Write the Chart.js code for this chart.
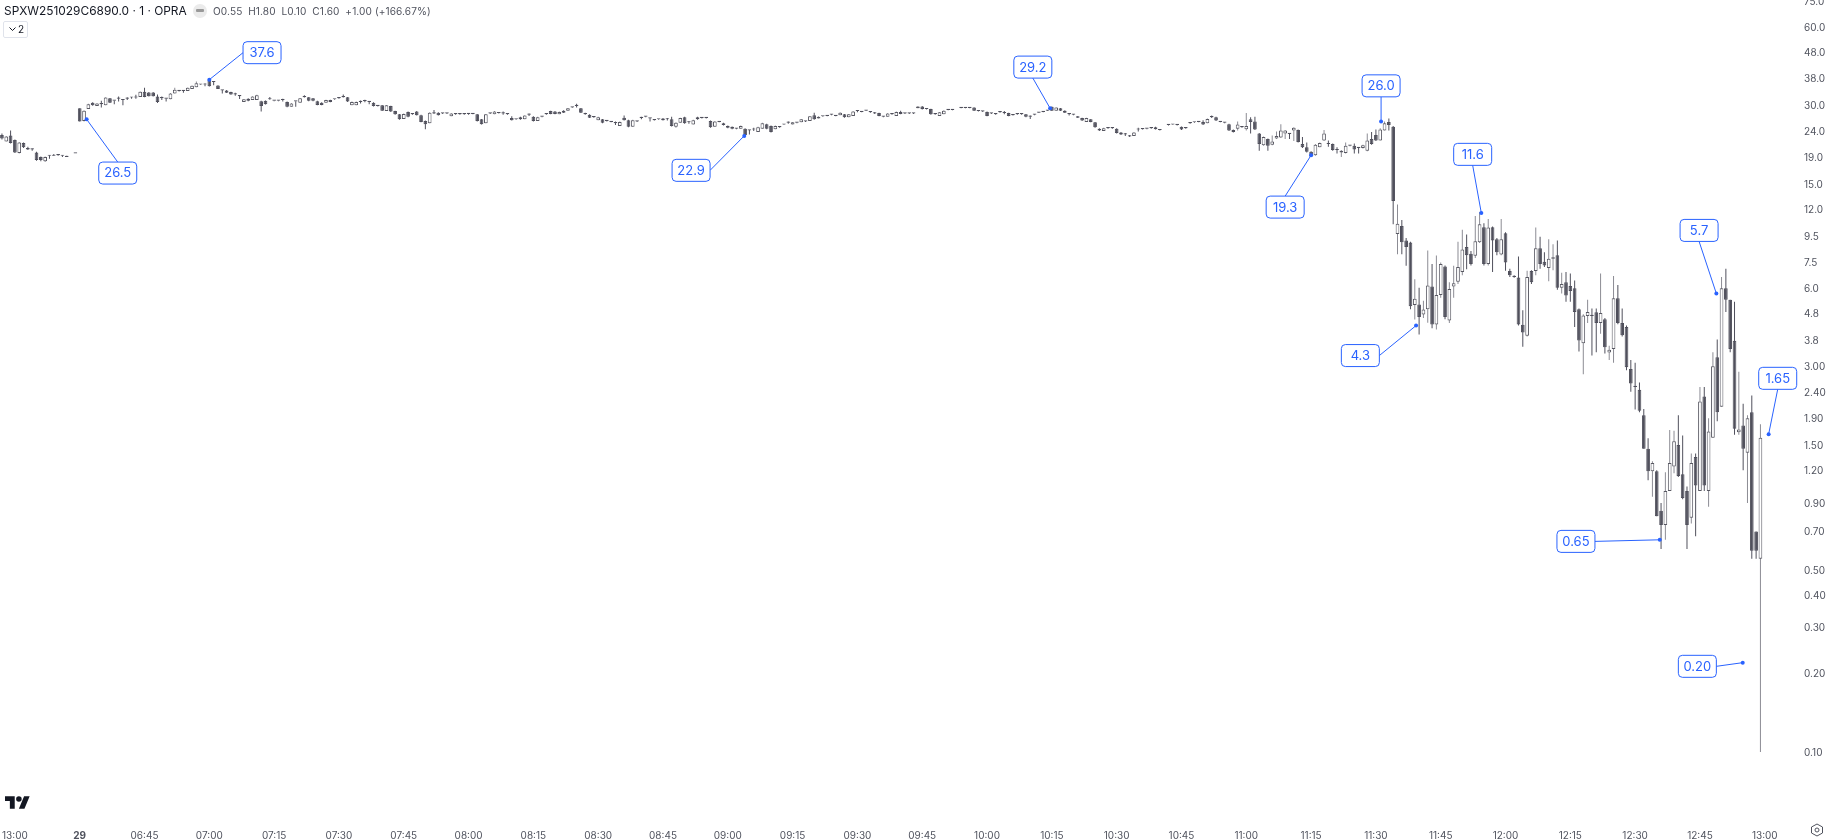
<!DOCTYPE html>
<html>
<head>
<meta charset="utf-8">
<title>SPXW251029C6890.0</title>
<script src="https://cdn.jsdelivr.net/npm/chart.js@4"></script>
<style>
    body { margin: 0; background: #fff; font-family: Inter, sans-serif; overflow: hidden; }
    canvas { position: absolute; left: 0; top: 0; }
    .legend { position: absolute; left: 4px; top: 3px; height: 16px; line-height: 16px; white-space: nowrap; }
    .legend .name { position: absolute; left: 0; top: 0; font-size: 11.9px; color: #131722; }
    .legend .ohlc { position: absolute; left: 209px; top: 0; font-size: 10.1px; color: #50535e; letter-spacing: 0.1px; }
    .dot { position: absolute; left: 193px; top: 4px; width: 14px; height: 14px; border-radius: 7px; background: #ebebeb; }
    .dot i { position: absolute; left: 3px; top: 5px; width: 8px; height: 3px; background: #999; border-radius: 1px; }
    .toggle { position: absolute; left: 3px; top: 21px; width: 23px; height: 15px; border: 1px solid #e0e3eb; border-radius: 2px; font-size: 10px; line-height: 15px; color: #131722; }
    .toggle svg { position: absolute; left: 5px; top: 5px; }
    .toggle span { position: absolute; left: 14px; top: 0; }
    .logo { position: absolute; left: 5px; top: 796px; }
    .gear { position: absolute; left: 1810px; top: 823px; }
</style>
</head>
<body>
<canvas id="chart" width="1831" height="839"></canvas>
<div class="legend">
    <span class="name">SPXW251029C6890.0 · 1 · OPRA</span>
    <span class="ohlc">O0.55&nbsp; H1.80&nbsp; L0.10&nbsp; C1.60&nbsp; +1.00 (+166.67%)</span>
</div>
<div class="dot"><i></i></div>
<div class="toggle">
    <svg width="7" height="5" viewBox="0 0 7 5"><path d="M0.5 0.5 L3.5 3.5 L6.5 0.5" fill="none" stroke="#131722"/></svg>
    <span>2</span>
</div>
<svg class="logo" width="25" height="13" viewBox="0 4 36 18"><path d="M14 22H7V11H0V4h14v18zM28 22h-8l7.5-18h8L28 22z" fill="#131722"/><circle cx="20" cy="8" r="4" fill="#131722"/></svg>
<svg class="gear" width="14" height="14" viewBox="0 0 14 14"><path d="M7 1 L12.5 4 V10 L7 13 L1.5 10 V4 Z" fill="none" stroke="#50535e"/><circle cx="7" cy="7" r="2" fill="none" stroke="#50535e"/></svg>

<script>
// 1 minute bars, first one is 18 minutes before the 06:30 open of the 29th
const firstBarIndex = -18;

const opens = [
    23.1, 21.8, 23.0, 22.1, 19.7, 21.5, 20.6, 20.3, 19.8, 19.0,
    18.3, 19.2, 19.4, 19.3, 19.2, 19.2, null, 19.6, 29.2, 26.1,
    29.0, 30.7, 29.8, 30.3, 30.0, 31.9, 31.2, 31.8, 31.4, 31.8,
    32.1, 32.1, 32.3, 33.8, 33.6, 33.6, 32.4, 31.9, 31.8, 31.6,
    33.3, 34.0, 34.0, 34.0, 34.6, 35.2, 36.0, 36.0, 37.6, 36.8,
    35.7, 34.2, 34.2, 33.7, 33.0, 32.5, 30.9, 31.8, 31.4, 31.4,
    31.1, 31.2, 31.6, 31.2, 31.2, 31.4, 30.9, 29.6, 31.0, 30.7,
    32.2, 32.2, 31.9, 31.1, 30.7, 30.7, 31.4, 31.6, 31.9, 32.2,
    32.2, 30.0, 30.0, 30.9, 31.1, 30.9, 30.7, 29.8, 30.0, 28.5,
    29.8, 28.5, 27.7, 26.6, 28.3, 27.7, 28.4, 27.5, 26.1, 25.6,
    27.9, 28.1, 27.9, 27.9, 27.2, 27.7, 27.7, 27.7, 27.8, 27.8,
    27.7, 26.5, 25.6, 27.9, 27.7, 28.0, 27.9, 27.7, 26.8, 26.5,
    27.0, 26.5, 27.6, 27.1, 26.1, 27.1, 27.7, 28.5, 28.4, 27.7,
    28.6, 28.6, 29.4, 29.8, 29.2, 28.0, 27.6, 27.0, 26.3, 26.5,
    26.1, 25.9, 25.6, 25.0, 26.9, 26.3, 24.8, 26.0, 26.8, 27.1,
    26.7, 26.3, 26.5, 26.7, 26.5, 26.5, 24.8, 25.7, 27.0, 25.8,
    25.3, 27.0, 26.8, 26.8, 26.1, 24.8, 25.9, 25.6, 25.0, 24.8,
    24.4, 24.4, 24.4, 24.0, 24.2, 23.7, 24.4, 25.4, 25.0, 24.3,
    24.7, 25.3, 25.7, 25.3, 25.7, 25.8, 26.0, 26.1, 27.5, 26.7,
    27.2, 27.3, 27.6, 27.3, 27.5, 27.7, 27.0, 27.3, 28.5, 28.3,
    28.6, 28.2, 28.2, 28.0, 27.1, 27.1, 27.7, 27.3, 28.3, 27.9,
    27.9, 27.9, 29.2, 29.7, 29.0, 29.0, 27.7, 27.3, 27.7, 28.8,
    28.8, null, 29.3, 29.3, 29.3, 29.4, 28.5, 28.4, 28.3, 27.9,
    27.7, 28.2, 28.0, 28.0, 27.5, 27.7, 27.7, 27.7, 27.1, 27.6,
    28.1, 28.3, 28.6, 29.6, 28.6, 29.2, 28.6, 27.7, 27.6, 27.2,
    26.8, 25.9, 26.5, 25.8, 24.4, 23.9, 24.5, 24.5, 24.4, 23.6,
    23.2, 23.0, 22.9, 24.2, 24.3, 24.4, 24.5, 24.7, 24.1, null,
    25.2, 25.3, 25.2, 24.8, 24.5, 25.6, 25.8, 25.9, 25.9, 25.6,
    27.0, 27.0, 25.9, 25.7, 25.4, 24.1, 24.4, 24.7, 24.3, 26.5,
    26.0, 23.4, 21.1, 22.3, 21.2, 22.4, 22.6, 23.4, 23.3, 24.0,
    24.1, 21.3, 20.7, 19.9, 19.3, 20.7, 22.0, 21.3, 21.3, 20.2,
    19.8, 19.7, 21.0, 21.0, 20.6, 20.6, 20.1, 22.3, 23.1, 22.0,
    24.0, 25.9, 24.8, 9.63, 10.35, 9.1, 8.95, 5.15, 5.18, 4.74,
    4.96, 6.07, 4.34, 5.63, 7.24, 4.5, 6.07, 6.33, 6.9, 8.6,
    8.1, 7.95, 8.97, 10.24, 7.4, 10.24, 9.2, 8.05, 9.7, 6.95,
    6.65, 6.57, 4.33, 3.93, 6.95, 6.95, 8.5, 7.55, 7.14, 7.75,
    8.0, 6.0, 6.3, 6.1, 5.97, 4.97, 3.68, 4.68, 4.68, 4.84,
    4.4, 4.55, 3.39, 3.5, 5.47, 4.4, 4.25, 2.93, 2.5, 2.44,
    1.95, 1.45, 1.19, 1.19, 0.84, 0.74, 1.0, 1.24, 1.5, 1.16,
    1.0, 0.79, 1.35, 1.0, 2.3, 1.0, 1.6, 3.25, 2.1, 5.97,
    5.4, 3.76, 1.68, 1.78, 1.4, 2.0, 0.7, 0.55
];
const highs = [
    23.4, 22.9, 24.0, 22.2, 21.7, 21.6, 20.8, 20.5, 19.9, 19.1,
    19.1, 19.3, 19.5, 19.4, 19.3, 19.2, null, 19.6, 29.2, 28.7,
    30.4, 30.8, 30.6, 31.2, 32.2, 32.0, 31.3, 32.4, 31.5, 32.2,
    32.3, 32.9, 33.9, 35.0, 33.7, 33.7, 33.0, 32.4, 31.9, 33.4,
    35.0, 34.1, 34.1, 35.1, 35.7, 37.0, 36.1, 36.4, 37.6, 36.9,
    35.8, 34.3, 34.3, 33.8, 33.5, 32.6, 31.7, 31.9, 32.5, 32.9,
    31.2, 31.3, 32.3, 31.3, 31.3, 31.8, 31.0, 30.6, 31.1, 32.0,
    32.8, 32.3, 32.0, 31.2, 30.8, 31.5, 31.5, 31.7, 32.0, 33.0,
    32.3, 31.0, 31.0, 31.3, 31.5, 31.0, 30.8, 29.9, 30.1, 30.1,
    29.9, 28.6, 27.8, 27.9, 28.4, 27.8, 28.5, 27.6, 26.2, 28.2,
    28.8, 28.2, 28.0, 28.0, 28.0, 27.8, 27.8, 27.8, 27.9, 27.9,
    27.8, 26.6, 27.8, 28.0, 28.5, 28.1, 28.4, 27.8, 27.2, 26.6,
    27.1, 27.5, 27.9, 27.2, 27.1, 27.2, 27.8, 28.6, 28.5, 28.4,
    28.7, 29.3, 29.5, 30.4, 29.3, 28.1, 27.7, 27.1, 27.1, 26.6,
    26.2, 26.0, 26.0, 26.0, 27.4, 26.4, 26.4, 26.1, 27.1, 27.2,
    26.8, 26.4, 26.6, 26.8, 26.8, 27.1, 25.8, 26.9, 27.1, 26.1,
    26.4, 27.1, 26.9, 26.9, 26.2, 26.1, 26.0, 25.7, 25.1, 24.9,
    24.5, 25.1, 24.5, 24.1, 24.6, 24.8, 25.7, 25.5, 25.1, 25.1,
    24.8, 25.4, 26.0, 25.9, 25.8, 26.6, 26.1, 27.3, 28.1, 27.2,
    27.3, 27.4, 27.7, 27.4, 28.2, 27.8, 27.8, 28.5, 28.8, 28.4,
    28.7, 28.3, 28.3, 28.1, 27.2, 28.0, 27.8, 28.4, 28.6, 28.0,
    28.0, 28.0, 29.8, 29.8, 29.1, 29.1, 27.8, 28.3, 28.7, 28.9,
    28.9, null, 29.4, 29.4, 29.4, 29.5, 28.6, 28.5, 28.4, 28.0,
    27.8, 28.3, 28.5, 28.1, 27.6, 27.8, 27.8, 27.8, 27.4, 27.7,
    28.2, 28.4, 28.7, 29.7, 29.5, 29.3, 28.7, 28.0, 27.7, 27.3,
    26.9, 26.9, 26.6, 25.9, 24.5, 24.6, 24.6, 24.6, 24.5, 23.7,
    23.5, 23.1, 23.7, 24.6, 24.4, 24.5, 24.6, 24.8, 24.2, null,
    25.3, 25.4, 25.3, 24.9, 24.6, 25.7, 25.9, 26.0, 26.3, 26.7,
    27.4, 27.1, 26.0, 25.8, 25.5, 24.2, 26.0, 24.8, 28.0, 27.0,
    27.1, 23.5, 22.8, 22.4, 23.0, 23.8, 25.4, 24.1, 23.4, 24.7,
    24.2, 22.7, 21.6, 20.0, 21.3, 21.6, 24.1, 22.0, 21.4, 20.7,
    20.2, 21.6, 21.1, 21.4, 20.7, 21.2, 23.4, 23.7, 24.2, 24.5,
    26.0, 26.7, 25.0, 12.5, 10.9, 9.3, 9.0, 6.47, 6.0, 5.35,
    8.34, 7.4, 7.97, 7.5, 7.3, 6.3, 7.28, 9.0, 10.0, 9.6,
    8.3, 11.3, 11.7, 10.6, 11.0, 10.3, 9.3, 11.0, 9.8, 7.1,
    6.7, 7.9, 4.92, 6.97, 7.0, 10.2, 9.4, 8.2, 9.2, 8.8,
    9.1, 6.85, 6.9, 6.8, 6.4, 5.0, 4.75, 5.4, 5.0, 5.0,
    6.8, 4.6, 3.6, 6.66, 6.15, 5.0, 4.3, 3.17, 3.1, 2.6,
    2.06, 1.59, 1.3, 1.2, 0.9, 1.18, 1.71, 1.7, 1.95, 1.63,
    1.04, 1.39, 1.39, 2.5, 2.5, 1.9, 3.4, 3.8, 6.6, 7.1,
    5.4, 5.3, 2.86, 2.16, 1.95, 2.32, 0.7, 1.8
];
const lows = [
    22.2, 21.8, 21.4, 19.7, 19.6, 20.6, 20.2, 20.1, 18.4, 18.3,
    18.2, 18.7, 19.2, 19.2, 19.0, 19.0, null, 19.6, 26.0, 26.0,
    29.0, 29.9, 29.8, 29.4, 30.0, 30.6, 30.3, 31.0, 30.0, 31.4,
    31.8, 31.8, 32.3, 32.2, 32.4, 32.4, 30.6, 31.4, 31.0, 31.6,
    33.3, 33.9, 33.5, 34.0, 34.6, 35.2, 35.9, 35.5, 35.4, 35.8,
    34.6, 33.3, 33.4, 32.9, 32.6, 31.7, 30.9, 31.1, 31.4, 31.4,
    28.4, 30.2, 31.5, 31.1, 31.1, 31.0, 29.5, 29.6, 29.6, 30.7,
    32.1, 31.1, 31.1, 30.0, 30.0, 30.7, 30.8, 31.5, 31.8, 32.1,
    30.9, 30.0, 30.0, 30.5, 30.8, 30.3, 29.7, 29.7, 28.5, 28.5,
    28.3, 27.6, 26.4, 26.6, 27.0, 27.6, 27.4, 25.8, 24.3, 25.6,
    27.8, 27.4, 27.8, 27.8, 27.2, 27.6, 27.6, 27.6, 27.6, 27.7,
    26.0, 25.3, 25.6, 27.8, 27.7, 27.9, 27.6, 27.6, 26.2, 26.4,
    26.4, 26.5, 27.3, 26.0, 26.1, 27.0, 27.6, 27.7, 27.7, 27.7,
    28.0, 28.6, 29.3, 29.4, 28.0, 27.6, 26.8, 26.9, 26.3, 25.6,
    26.0, 25.8, 25.2, 25.0, 26.2, 24.7, 24.8, 25.9, 26.5, 27.0,
    26.0, 26.2, 26.4, 26.2, 26.2, 24.9, 24.6, 25.7, 25.5, 25.5,
    25.3, 26.4, 26.7, 26.7, 24.6, 24.8, 25.8, 25.1, 24.5, 24.3,
    24.3, 24.4, 22.9, 23.2, 23.9, 23.7, 24.4, 24.3, 23.6, 24.3,
    24.6, 25.2, 25.5, 25.3, 25.6, 25.8, 25.9, 26.1, 26.4, 26.7,
    27.1, 27.2, 27.5, 27.2, 27.5, 26.9, 27.0, 27.3, 28.2, 28.2,
    28.5, 28.1, 27.8, 27.2, 27.0, 27.1, 27.6, 27.3, 27.7, 27.8,
    27.8, 27.8, 29.2, 28.9, 28.9, 27.6, 27.6, 27.3, 27.7, 28.7,
    28.7, null, 29.2, 29.2, 29.2, 28.5, 28.4, 28.3, 27.2, 27.8,
    27.6, 28.1, 27.7, 27.2, 27.4, 27.6, 27.6, 27.0, 26.6, 27.5,
    28.0, 28.2, 28.5, 28.5, 28.6, 28.5, 28.0, 27.4, 27.5, 26.8,
    26.1, 25.9, 25.8, 24.6, 23.9, 23.9, 24.4, 24.4, 23.4, 23.1,
    22.9, 22.7, 22.9, 23.8, 24.2, 24.3, 24.4, 24.2, 24.0, null,
    25.1, 25.2, 25.1, 24.1, 24.4, 25.5, 25.7, 25.8, 25.2, 25.6,
    26.8, 26.1, 25.8, 25.6, 23.9, 23.6, 24.0, 24.6, 24.0, 23.4,
    24.1, 20.1, 21.0, 20.1, 21.1, 22.3, 22.5, 22.3, 22.3, 21.9,
    21.6, 20.6, 19.8, 19.0, 19.2, 20.7, 21.9, 20.8, 20.1, 19.6,
    19.0, 19.6, 20.9, 19.6, 19.6, 20.5, 20.0, 21.2, 21.9, 22.0,
    24.0, 24.0, 10.5, 8.07, 8.07, 7.28, 4.96, 4.54, 3.97, 4.6,
    4.41, 4.2, 4.15, 5.5, 4.55, 4.4, 5.5, 6.2, 6.7, 7.06,
    7.3, 7.8, 8.9, 7.3, 7.3, 6.9, 8.0, 8.0, 6.97, 6.6,
    6.55, 4.3, 3.57, 3.9, 6.2, 6.7, 7.1, 7.2, 6.35, 7.0,
    5.9, 5.7, 5.3, 5.3, 4.25, 3.42, 2.8, 4.4, 3.3, 3.4,
    4.0, 3.36, 3.17, 3.1, 4.35, 3.9, 2.9, 2.4, 2.05, 2.0,
    1.45, 1.1, 0.95, 0.8, 0.6, 0.65, 1.0, 1.17, 1.13, 0.93,
    0.6, 0.75, 0.67, 1.0, 1.0, 0.87, 1.6, 1.85, 2.1, 4.85,
    3.4, 1.64, 1.64, 1.2, 0.9, 0.55, 0.55, 0.1
];
const closes = [
    22.4, 22.8, 21.5, 19.8, 21.6, 20.7, 20.3, 20.3, 18.5, 18.5,
    19.0, 19.2, 19.2, 19.3, 19.2, 19.0, null, 19.6, 26.0, 28.6,
    30.3, 30.0, 30.5, 30.3, 32.1, 30.7, 31.2, 31.8, 31.4, 31.8,
    32.1, 32.1, 33.8, 32.3, 32.5, 32.5, 30.9, 31.9, 31.8, 33.3,
    34.4, 34.0, 34.0, 35.0, 35.6, 36.4, 36.0, 36.0, 35.5, 36.8,
    34.6, 34.2, 33.5, 33.0, 33.0, 32.5, 31.6, 31.2, 32.4, 32.8,
    29.8, 30.3, 31.6, 31.2, 31.2, 31.4, 29.6, 30.5, 31.0, 31.9,
    32.2, 31.2, 31.2, 30.1, 30.1, 31.4, 30.9, 31.6, 31.9, 32.2,
    31.0, 30.9, 30.9, 30.9, 31.1, 30.9, 29.8, 29.8, 28.6, 30.0,
    28.4, 27.7, 26.5, 27.8, 27.1, 27.7, 27.5, 25.9, 25.4, 28.1,
    27.9, 27.5, 27.9, 27.9, 27.9, 27.7, 27.7, 27.7, 27.8, 27.8,
    26.1, 25.4, 27.7, 27.9, 28.4, 28.0, 27.9, 27.7, 26.3, 26.5,
    26.5, 27.4, 27.6, 26.1, 27.0, 27.1, 27.7, 27.8, 27.8, 28.3,
    28.1, 29.2, 29.4, 29.8, 28.1, 27.7, 26.9, 27.0, 27.0, 25.7,
    26.1, 25.9, 25.6, 25.9, 26.3, 24.8, 26.3, 26.0, 26.8, 27.1,
    26.7, 26.3, 26.5, 26.3, 26.5, 25.0, 25.7, 26.8, 25.6, 25.8,
    26.3, 26.5, 26.8, 26.8, 24.7, 26.0, 25.9, 25.2, 24.6, 24.4,
    24.4, 25.0, 23.1, 24.0, 24.2, 24.7, 25.6, 24.4, 23.7, 25.0,
    24.7, 25.3, 25.7, 25.8, 25.7, 26.5, 26.0, 27.2, 26.5, 27.1,
    27.2, 27.3, 27.6, 27.3, 28.1, 27.0, 27.7, 28.4, 28.5, 28.3,
    28.6, 28.2, 27.9, 27.3, 27.1, 27.9, 27.7, 28.3, 27.8, 27.9,
    27.9, 27.9, 29.7, 29.0, 29.0, 27.7, 27.7, 28.2, 28.6, 28.8,
    28.8, null, 29.3, 29.3, 29.3, 28.6, 28.5, 28.4, 27.3, 27.9,
    27.7, 28.2, 28.0, 27.3, 27.5, 27.7, 27.7, 27.1, 27.1, 27.6,
    28.1, 28.3, 28.6, 28.6, 29.4, 28.6, 28.1, 27.7, 27.6, 26.9,
    26.2, 26.8, 25.9, 24.7, 24.0, 24.5, 24.5, 24.5, 23.5, 23.2,
    23.2, 22.8, 23.6, 24.2, 24.3, 24.4, 24.5, 24.3, 24.1, null,
    25.2, 25.3, 25.2, 24.2, 24.5, 25.6, 25.8, 25.9, 25.3, 26.6,
    27.0, 26.2, 25.9, 25.7, 24.0, 23.7, 25.3, 24.7, 25.0, 25.9,
    24.2, 21.3, 22.7, 21.0, 21.8, 22.9, 24.0, 24.0, 23.3, 24.6,
    21.7, 20.7, 19.9, 19.1, 21.2, 21.5, 23.4, 21.3, 20.2, 20.2,
    20.1, 21.0, 21.0, 20.3, 20.6, 21.1, 22.0, 21.3, 22.0, 24.2,
    25.6, 25.2, 12.9, 10.55, 8.97, 8.6, 5.1, 5.45, 4.64, 4.95,
    6.12, 4.34, 5.63, 7.4, 4.64, 5.93, 6.25, 7.2, 8.4, 8.0,
    7.4, 9.04, 10.5, 7.4, 10.2, 9.1, 8.2, 9.2, 7.5, 6.7,
    6.6, 4.34, 4.04, 6.6, 6.3, 8.5, 7.4, 7.3, 7.75, 7.85,
    6.0, 6.2, 5.6, 5.83, 4.85, 3.77, 4.7, 4.85, 4.68, 4.4,
    4.8, 3.55, 3.47, 5.47, 4.4, 3.95, 2.98, 2.58, 2.5, 2.03,
    1.45, 1.19, 1.28, 0.8, 0.74, 1.0, 1.28, 1.55, 1.14, 0.94,
    0.74, 1.28, 1.05, 2.2, 1.05, 1.69, 3.0, 2.0, 5.97, 5.4,
    3.5, 1.73, 1.72, 1.45, 1.9, 0.59, 0.59, 1.6
];

const yTicks = [75, 60, 48, 38, 30, 24, 19, 15, 12, 9.5, 7.5, 6, 4.8, 3.8, 3, 2.4, 1.9, 1.5, 1.2, 0.9, 0.7, 0.5, 0.4, 0.3, 0.2, 0.1];
const yTickLabels = ['75.0', '60.0', '48.0', '38.0', '30.0', '24.0', '19.0', '15.0', '12.0', '9.5', '7.5', '6.0', '4.8', '3.8', '3.00', '2.40', '1.90', '1.50', '1.20', '0.90', '0.70', '0.50', '0.40', '0.30', '0.20', '0.10'];

// minutes from 06:30, the old session close sits left of it
const xTicks = [-15, 0, 15, 30, 45, 60, 75, 90, 105, 120, 135, 150, 165, 180, 195, 210, 225, 240, 255, 270, 285, 300, 315, 330, 345, 360, 375, 390];
const xTickLabels = ['13:00', '29', '06:45', '07:00', '07:15', '07:30', '07:45', '08:00', '08:15', '08:30', '08:45', '09:00', '09:15', '09:30', '09:45', '10:00', '10:15', '10:30', '10:45', '11:00', '11:15', '11:30', '11:45', '12:00', '12:15', '12:30', '12:45', '13:00'];

// price notes: text, where the dot is, where the box is (minute, price)
const noteLabels = ['26.5', '37.6', '22.9', '29.2', '19.3', '26.0', '4.3', '11.6', '0.65', '5.7', '0.20', '1.65'];
const noteMinutes = [1.6, 30, 153.8, 224.6, 285, 301.2, 309.3, 324.4, 365.7, 378.8, 384.9, 390.9];
const notePrices = [26.5, 37.6, 22.9, 29.2, 19.3, 26.0, 4.3, 11.6, 0.65, 5.7, 0.22, 1.65];
const boxMinutes = [8.8, 42.2, 141.5, 220.6, 279, 301.2, 296.4, 322.4, 346.3, 374.8, 374.4, 393];
const boxPrices = [16.5, 47.7, 16.9, 42, 12.22, 35.6, 3.3, 19.46, 0.641, 9.95, 0.213, 2.7];

const downColor = '#50505c';
const upBorder = '#585862';
const noteColor = '#2962ff';
const axisFont = 'Inter';

const rows = [];
opens.forEach(function (o, i) {
    if (o !== null) {
        rows.push({ x: firstBarIndex + i, o: o, h: highs[i], l: lows[i], c: closes[i] });
    }
});

const notesPlugin = {
    id: 'notes',
    afterDatasetsDraw(chart) {
        const ctx = chart.ctx;
        const xs = chart.scales.x;
        const ys = chart.scales.y;
        const boxW = 38, boxH = 22;
        ctx.save();
        ctx.font = '13px ' + axisFont;
        ctx.textAlign = 'center';
        ctx.textBaseline = 'middle';
        noteLabels.forEach(function (label, i) {
            const px = xs.getPixelForValue(noteMinutes[i]);
            const py = ys.getPixelForValue(notePrices[i]);
            const bx = xs.getPixelForValue(boxMinutes[i]);
            const by = ys.getPixelForValue(boxPrices[i]);
            const dx = px - bx, dy = py - by;
            let ex = bx, ey = by;
            if (Math.abs(dx) > Math.abs(dy)) {
                ex = bx + Math.sign(dx) * boxW / 2;
            } else {
                ey = by + Math.sign(dy) * boxH / 2;
            }
            ctx.strokeStyle = noteColor;
            ctx.lineWidth = 1;
            ctx.beginPath();
            ctx.moveTo(ex, ey);
            ctx.lineTo(px, py);
            ctx.stroke();
            ctx.fillStyle = noteColor;
            ctx.beginPath();
            ctx.arc(px, py, 2, 0, Math.PI * 2);
            ctx.fill();
            ctx.fillStyle = '#fff';
            ctx.beginPath();
            ctx.roundRect(bx - boxW / 2, by - boxH / 2, boxW, boxH, 4);
            ctx.fill();
            ctx.stroke();
            ctx.fillStyle = noteColor;
            ctx.fillText(label, bx, by + 0.5);
        });
        ctx.restore();
    }
};

const configCandles = {
    type: 'bar',
    data: {
        datasets: [{
            label: 'body',
            order: 1,
            data: rows.map(r => ({ x: r.x, y: [r.o, r.c] })),
            backgroundColor: rows.map(r => r.c > r.o ? '#ffffff' : downColor),
            borderColor: rows.map(r => r.c > r.o ? upBorder : downColor),
            borderWidth: 1,
            borderSkipped: false,
            inflateAmount: 0,
            barThickness: 3.7,
            minBarLength: 1.2,
            grouped: false
        }, {
            label: 'wick',
            order: 2,
            data: rows.map(r => ({ x: r.x, y: [r.l, r.h] })),
            backgroundColor: rows.map(r => r.c > r.o ? '#8c8c94' : downColor),
            borderWidth: 0,
            inflateAmount: 0,
            barThickness: 1,
            grouped: false
        }]
    },
    options: {
        responsive: false,
        animation: false,
        layout: { padding: 0 },
        plugins: {
            legend: { display: false },
            title: { display: false },
            tooltip: { enabled: false }
        },
        scales: {
            x: {
                type: 'linear',
                bounds: 'data',
                offset: false,
                min: -18.45,
                max: 397,
                grid: { display: false },
                border: { display: false },
                afterBuildTicks(axis) {
                    axis.ticks = xTicks.map(v => ({ value: v }));
                },
                afterFit(axis) {
                    axis.height = 29;
                    axis.paddingLeft = 0;
                    axis.paddingRight = 0;
                },
                ticks: {
                    autoSkip: false,
                    maxRotation: 0,
                    padding: 12,
                    color: '#50535e',
                    font: ctx => ({ family: axisFont, size: 10, weight: xTickLabels[ctx.index] === '29' ? 'bold' : 'normal' }),
                    callback: (value, index) => xTickLabels[index]
                }
            },
            y: {
                type: 'logarithmic',
                position: 'right',
                bounds: 'data',
                min: 0.06,
                max: 75.9,
                grid: { display: false, drawTicks: false },
                border: { display: false },
                afterBuildTicks(axis) {
                    axis.ticks = yTicks.map(v => ({ value: v }));
                },
                afterFit(axis) {
                    axis.width = 36;
                    axis.paddingTop = 0;
                    axis.paddingBottom = 0;
                },
                ticks: {
                    autoSkip: false,
                    padding: 9,
                    labelOffset: 1,
                    color: '#50535e',
                    font: { family: axisFont, size: 10 },
                    callback: (value, index) => yTickLabels[index]
                }
            }
        }
    },
    plugins: [notesPlugin]
};

const CandleChart = new Chart(document.getElementById('chart'), configCandles);
</script>
</body>
</html>
